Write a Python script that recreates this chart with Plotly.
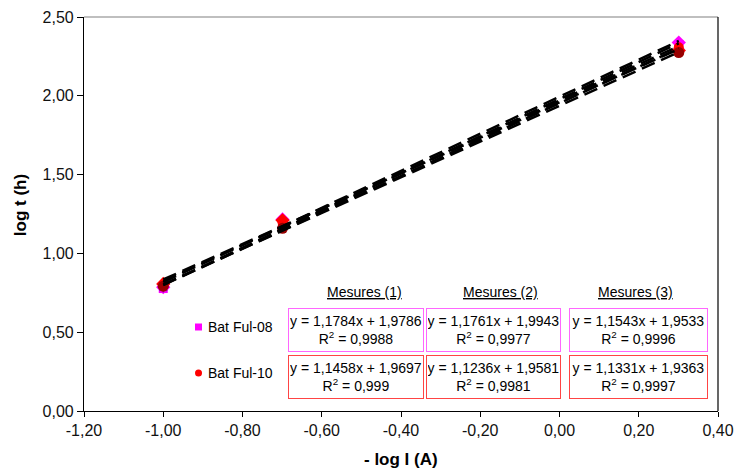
import plotly.graph_objects as go

# ---- data ----
x_vals = [-1.0, -0.699, 0.301]          # - log I (A)

# log t (h) for each measurement series
ful08_m1 = [0.777, 1.186, 2.326]
ful08_m2 = [0.786, 1.215, 2.338]
ful08_m3 = [0.786, 1.164, 2.297]
ful10_m1 = [0.803, 1.196, 2.308]
ful10_m2 = [0.806, 1.210, 2.288]
ful10_m3 = [0.792, 1.159, 2.274]

# trendline coefficients (slope, intercept) and R²
ful08_slopes = [1.1784, 1.1761, 1.1543]
ful08_inter = [1.9786, 1.9943, 1.9533]
ful08_r2 = ["0,9988", "0,9977", "0,9996"]
ful10_slopes = [1.1458, 1.1236, 1.1331]
ful10_inter = [1.9697, 1.9581, 1.9363]
ful10_r2 = ["0,999", "0,9981", "0,9997"]

headers = ["Mesures (1)", "Mesures (2)", "Mesures (3)"]
legend_names = ["Bat Ful-08", "Bat Ful-10"]

x_tickvals = [-1.2, -1.0, -0.8, -0.6, -0.4, -0.2, 0.0, 0.2, 0.4]
x_ticktext = ["-1,20", "-1,00", "-0,80", "-0,60", "-0,40", "-0,20", "0,00", "0,20", "0,40"]
y_tickvals = [0.0, 0.5, 1.0, 1.5, 2.0, 2.5]
y_ticktext = ["0,00", "0,50", "1,00", "1,50", "2,00", "2,50"]

FONT = "Arial, 'Liberation Sans', sans-serif"

fig = go.Figure()

series = [
    (ful08_m1, dict(symbol="square", color="#FF00FF", size=9)),
    (ful08_m2, dict(symbol="diamond", color="#FF00FF", size=11)),
    (ful08_m3, dict(symbol="asterisk-open", color="#9900CC", size=9, line=dict(color="#9900CC", width=1.5))),
    (ful10_m1, dict(symbol="circle", color="#FF0000", size=10)),
    (ful10_m2, dict(symbol="diamond", color="#FF0000", size=11)),
    (ful10_m3, dict(symbol="circle", color="#990000", size=11)),
]
for ys, mk in series:
    fig.add_trace(go.Scatter(x=x_vals, y=ys, mode="markers", marker=mk,
                             showlegend=False, hoverinfo="skip"))

# trendlines
xl = [min(x_vals), max(x_vals)]
for a, b in list(zip(ful08_slopes, ful08_inter)) + list(zip(ful10_slopes, ful10_inter)):
    fig.add_trace(go.Scatter(x=xl, y=[a * xx + b for xx in xl], mode="lines",
                             line=dict(color="black", width=2.5, dash="14px,7px"),
                             showlegend=False, hoverinfo="skip"))

def fmt(v):
    return f"{v:.4f}".replace(".", ",")

annotations = []
col_x = [-0.513, -0.166, 0.199]
col_w = [132, 131, 135]
head_x = [-0.493, -0.150, 0.191]
row_y = [0.514, 0.218]
row_col = ["#FF66FF", "#FF4444"]
rows = [(ful08_slopes, ful08_inter, ful08_r2), (ful10_slopes, ful10_inter, ful10_r2)]
for ci in range(3):
    annotations.append(dict(x=head_x[ci], y=0.755, xref="x", yref="y",
                            text=f"<u>{headers[ci]}</u>", showarrow=False,
                            font=dict(size=14, color="black", family=FONT)))
    for ri, (sl, ic, r2) in enumerate(rows):
        txt = f"y = {fmt(sl[ci])}x + {fmt(ic[ci])}<br>R<sup>2</sup> = {r2[ci]}"
        annotations.append(dict(x=col_x[ci], y=row_y[ri], xref="x", yref="y",
                                text=txt, showarrow=False, width=col_w[ci], height=40,
                                bordercolor=row_col[ri], borderwidth=1, borderpad=1,
                                bgcolor="white",
                                font=dict(size=14, color="black", family=FONT)))

leg_y = [0.533, 0.241]
for i, name in enumerate(legend_names):
    annotations.append(dict(x=-0.893, y=leg_y[i], xref="x", yref="y", xanchor="left",
                            text=name, showarrow=False,
                            font=dict(size=14, color="black", family=FONT)))

# axis titles
annotations.append(dict(x=0.5, y=-0.124, xref="paper", yref="paper",
                        xanchor="center", yanchor="middle",
                        text="<b>- log I (A)</b>", showarrow=False,
                        font=dict(size=17, color="black", family=FONT)))
annotations.append(dict(x=-0.099, y=0.523, xref="paper", yref="paper", textangle=-90,
                        xanchor="center", yanchor="middle",
                        text="<b>log t (h)</b>", showarrow=False,
                        font=dict(size=17, color="black", family=FONT)))

shapes = [
    dict(type="rect", xref="x", yref="y", xsizemode="pixel", ysizemode="pixel",
         xanchor=-0.911, yanchor=leg_y[0], x0=-3.5, x1=3.5, y0=-3.5, y1=3.5,
         fillcolor="#FF00FF", line=dict(width=0)),
    dict(type="circle", xref="x", yref="y", xsizemode="pixel", ysizemode="pixel",
         xanchor=-0.911, yanchor=leg_y[1], x0=-3.5, x1=3.5, y0=-3.5, y1=3.5,
         fillcolor="#FF0000", line=dict(width=0)),
    # plot area frame (top grey, right black)
    dict(type="line", xref="paper", yref="paper", x0=0, x1=1, y0=1, y1=1,
         line=dict(color="#808080", width=1.2)),
    dict(type="line", xref="paper", yref="paper", x0=1, x1=1, y0=0, y1=1,
         line=dict(color="black", width=1.2)),
]

fig.update_layout(
    width=736, height=474,
    margin=dict(l=84, r=18, t=17, b=63),
    paper_bgcolor="white", plot_bgcolor="white",
    font=dict(family=FONT, size=16, color="black"),
    annotations=annotations, shapes=shapes,
    xaxis=dict(range=[-1.2, 0.4], tickvals=x_tickvals, ticktext=x_ticktext,
               showgrid=False, zeroline=False, showline=True, linecolor="black",
               linewidth=1.2, ticks="outside", ticklen=5, tickcolor="black",
               tickfont=dict(size=16, color="#111"), automargin=False),
    yaxis=dict(range=[0, 2.5], tickvals=y_tickvals, ticktext=y_ticktext,
               showgrid=False, zeroline=False, showline=True, linecolor="black",
               linewidth=1.2, ticks="outside", ticklen=6, tickcolor="black",
               tickfont=dict(size=16, color="#111"), automargin=False),
)

fig.write_html("out.html", config={"displayModeBar": False},
               post_script="document.body.style.margin='0';document.body.style.overflow='hidden';")
